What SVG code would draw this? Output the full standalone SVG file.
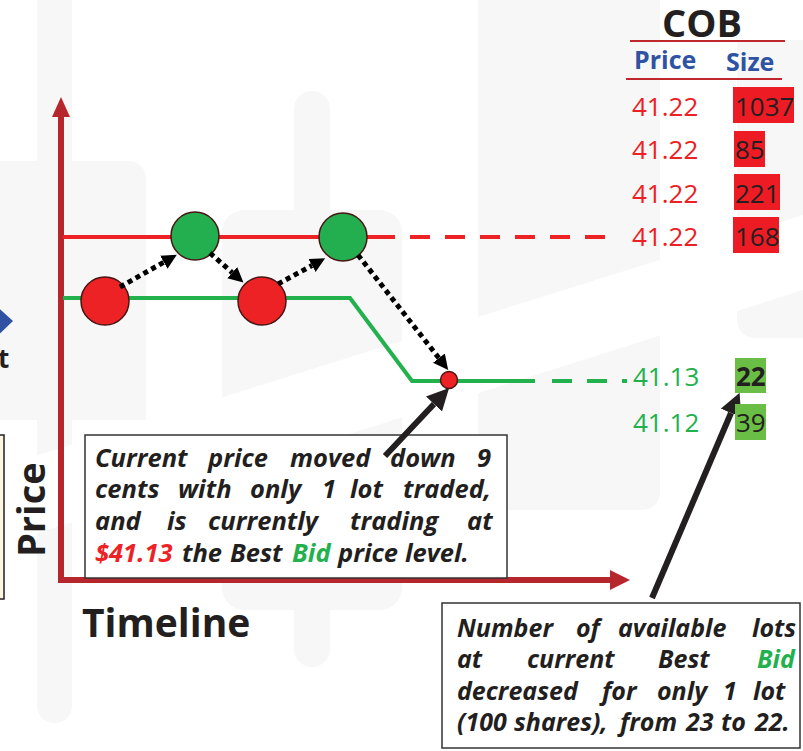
<svg xmlns="http://www.w3.org/2000/svg" width="803" height="751" viewBox="0 0 803 751">
<defs>
<style>
text{font-family:"Open Sans","Liberation Sans",sans-serif;}
.wm{fill:#f7f7f7;}
.ax{stroke:#b5272d;stroke-width:6;fill:none;}
.callout{font-size:25.5px;font-weight:bold;font-style:italic;fill:#231f20;}
.pr{font-size:26px;fill:#ed2024;}
.pg{font-size:26px;fill:#22b14c;}
.sz{font-size:26px;fill:#231f20;}
.dot{stroke:#000;stroke-width:5;stroke-dasharray:5 4;fill:none;}
.sol{stroke:#231f20;stroke-width:6;fill:none;}
.node{stroke:#4a1515;stroke-width:1.5;}
.box{fill:#fff;stroke:#333;stroke-width:1.5;}
</style>
<marker id="dh" markerUnits="userSpaceOnUse" markerWidth="16" markerHeight="16" refX="0" refY="7.5" orient="auto"><path d="M0,0 L15,7.5 L0,15 z" fill="#000"/></marker>
<marker id="sh" markerUnits="userSpaceOnUse" markerWidth="24" markerHeight="24" refX="0" refY="11" orient="auto"><path d="M0,0 L22,11 L0,22 z" fill="#231f20"/></marker>
</defs>
<rect width="803" height="751" fill="#fff"/>
<g id="watermark">
<rect class="wm" x="37" y="-20" width="35" height="743" rx="17"/>
<path class="wm" d="M0,161 H126 Q146,161 146,181 V420 H0 z"/>
<rect class="wm" x="294" y="91" width="36" height="576" rx="18"/>
<rect class="wm" x="222" y="210" width="180" height="400" rx="22"/>
<path class="wm" d="M478,0 H660 V490 Q660,510 640,510 H478 z"/>
<path class="wm" d="M737,40 H803 V338 H757 Q737,338 737,318 z"/>
<polygon fill="#fff" points="0,467 803,215 803,290 0,545"/>
</g>
<g id="axes">
<polyline class="ax" points="61,114 61,580 612,580"/>
<polygon points="52,117 61,97 70,117" fill="#b5272d"/>
<polygon points="610,570 630,580 610,590" fill="#b5272d"/>
</g>
<g id="lines">
<line x1="63" y1="237" x2="395" y2="237" stroke="#ed2224" stroke-width="4"/>
<line x1="410" y1="237" x2="605" y2="237" stroke="#ed2224" stroke-width="4" stroke-dasharray="20 15"/>
<polyline points="63,298 350,298 412,381 535,381" stroke="#22b14c" stroke-width="4" fill="none"/>
<line x1="552" y1="381" x2="627" y2="381" stroke="#22b14c" stroke-width="4" stroke-dasharray="20 15"/>
</g>
<g id="node-red1"><circle class="node" cx="105" cy="301" r="24" fill="#ed2224"/></g>
<g id="node-green1"><circle class="node" cx="195" cy="236" r="24" fill="#23ae4f"/></g>
<g id="node-red2"><circle class="node" cx="262" cy="301" r="24" fill="#ed2224"/></g>
<g id="node-green2"><circle class="node" cx="343" cy="237" r="24" fill="#23ae4f"/></g>
<g id="node-trade"><circle class="node" cx="449" cy="380" r="8.5" fill="#ed2224"/></g>
<g id="callout-price">
<rect class="box" x="85" y="435" width="422" height="143"/>
<text class="callout">
<tspan x="95" y="467">Current</tspan><tspan x="208" y="467">price</tspan><tspan x="290" y="467">moved</tspan><tspan x="390" y="467">down</tspan><tspan x="477" y="467">9</tspan>
<tspan x="95" y="498">cents</tspan><tspan x="178" y="498">with</tspan><tspan x="250" y="498">only</tspan><tspan x="322" y="498">1</tspan><tspan x="350" y="498">lot</tspan><tspan x="403" y="498">traded,</tspan>
<tspan x="95" y="530">and</tspan><tspan x="167" y="530">is</tspan><tspan x="208" y="530">currently</tspan><tspan x="350" y="530">trading</tspan><tspan x="467" y="530">at</tspan>
<tspan x="95" y="562" fill="#ed2224">$41.13</tspan><tspan x="182" y="562">the</tspan><tspan x="230" y="562">Best</tspan><tspan x="292" y="562" fill="#22b14c">Bid</tspan><tspan x="338" y="562">price</tspan><tspan x="405" y="562">level.</tspan>
</text>
</g>
<g id="callout-size">
<rect class="box" x="442" y="603" width="358" height="145"/>
<text class="callout" style="font-size:25px">
<tspan x="457" y="637">Number</tspan><tspan x="576" y="637">of</tspan><tspan x="618" y="637">available</tspan><tspan x="752" y="637">lots</tspan>
<tspan x="457" y="668">at</tspan><tspan x="527" y="668">current</tspan><tspan x="658" y="668">Best</tspan><tspan x="757" y="668" fill="#22b14c">Bid</tspan>
<tspan x="457" y="700">decreased</tspan><tspan x="602" y="700">for</tspan><tspan x="657" y="700">only</tspan><tspan x="723" y="700">1</tspan><tspan x="753" y="700">lot</tspan>
<tspan x="457" y="731">(100</tspan><tspan x="514" y="731">shares),</tspan><tspan x="620" y="731">from</tspan><tspan x="686" y="731">23</tspan><tspan x="721" y="731">to</tspan><tspan x="755" y="731">22.</tspan>
</text>
</g>
<g id="connectors">
<line class="dot" x1="120" y1="287" x2="163.8" y2="262.2" marker-end="url(#dh)"/>
<line class="dot" x1="210" y1="253" x2="232.2" y2="272.6" marker-end="url(#dh)"/>
<line class="dot" x1="278" y1="284" x2="312" y2="265.5" marker-end="url(#dh)"/>
<line class="dot" x1="358" y1="255" x2="438.9" y2="358.1" marker-end="url(#dh)"/>
<line class="sol" x1="385" y1="456" x2="434" y2="404" marker-end="url(#sh)"/>
<line class="sol" x1="652" y1="598" x2="731" y2="413" marker-end="url(#sh)"/>
</g>
<g id="cob">
<text x="702" y="37" text-anchor="middle" font-size="38" font-weight="bold" fill="#231f20">COB</text>
<line x1="630" y1="41" x2="785" y2="41" stroke="#c0272d" stroke-width="2"/>
<text x="634" y="69" font-size="25" font-weight="bold" fill="#2f52a3">Price</text>
<text x="726" y="71" font-size="25" font-weight="bold" fill="#2f52a3">Size</text>
<line x1="626" y1="79" x2="782" y2="79" stroke="#c0272d" stroke-width="2"/>
<rect x="733" y="87" width="61" height="36" fill="#ed1c24"/>
<rect x="734" y="131" width="31" height="36" fill="#ed1c24"/>
<rect x="734" y="174" width="46" height="36" fill="#ed1c24"/>
<rect x="733" y="217" width="46" height="36" fill="#ed1c24"/>
<rect x="735" y="358" width="31" height="35" fill="#6abd45"/>
<rect x="735" y="404" width="31" height="36" fill="#6abd45"/>
<text class="pr" x="632" y="116">41.22</text>
<text class="pr" x="632" y="159">41.22</text>
<text class="pr" x="632" y="203">41.22</text>
<text class="pr" x="632" y="246">41.22</text>
<text class="pg" x="633" y="386">41.13</text>
<text class="pg" x="633" y="432">41.12</text>
<text class="sz" x="735" y="116">1037</text>
<text class="sz" x="735" y="159">85</text>
<text class="sz" x="735" y="203">221</text>
<text class="sz" x="735" y="246">168</text>
<text class="sz" x="736" y="386" font-weight="bold">22</text>
<text class="sz" x="736" y="432">39</text>
</g>
<g id="labels">
<text x="45" y="557" transform="rotate(-90 45 557)" font-size="38" font-weight="bold" fill="#231f20">Price</text>
<text x="82" y="637" font-size="39" font-weight="bold" fill="#231f20">Timeline</text>
</g>
<g id="left-edge">
<polygon points="-10,300 13,321 -10,343" fill="#2f52a3"/>
<text x="-2" y="368" font-size="26" font-weight="bold" fill="#231f20">t</text>
<rect x="-10" y="435" width="14" height="164" fill="#fdf6e3" stroke="#231f20" stroke-width="1.5"/>
</g>
</svg>
